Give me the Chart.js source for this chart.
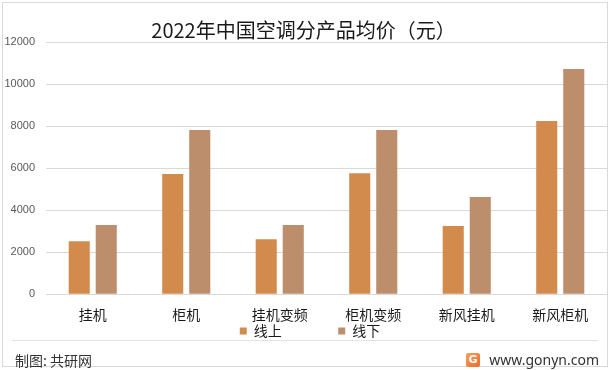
<!DOCTYPE html>
<html>
<head>
<meta charset="utf-8">
<script src="https://cdn.jsdelivr.net/npm/chart.js@4"></script>
<style>
    body { margin: 0; background: #fff; }
    #wrap { position: relative; width: 612px; height: 370px; overflow: hidden; }
    #frame { position: absolute; left: 2px; top: 2px; width: 604px; height: 363px; border: 1px solid #d9d9d9; }
    #chart { position: absolute; left: 0; top: 0; }
    #footLine { position: absolute; left: 12px; top: 340px; width: 586px; border-top: 1px solid #e3e3e3; }
    .foot { position: absolute; top: 350px; font-family: "Noto Sans CJK SC", sans-serif; color: #333; font-size: 14px; line-height: 20px; }
    #source { left: 15px; }
    #site { right: 13px; font-family: "Noto Sans", sans-serif; font-size: 14px; }
    #logo { position: absolute; top: 353px; left: 466px; width: 14px; height: 14px; border-radius: 2px;
            background: linear-gradient(135deg, #f6a15a, #ee6a2c); color: #fff; font: bold 11px "DejaVu Sans"; text-align: center; line-height: 14px; }
</style>
</head>
<body>
<div id="wrap">
    <div id="frame"></div>
    <canvas id="chart" width="612" height="370"></canvas>
    <div id="footLine"></div>
    <div class="foot" id="source">制图: 共研网</div>
    <div id="logo">G</div>
    <div class="foot" id="site">www.gonyn.com</div>
</div>
<script>
const categories = ["挂机", "柜机", "挂机变频", "柜机变频", "新风挂机", "新风柜机"];
const onlinePrices = [2520, 5720, 2620, 5760, 3240, 8240];   // 线上
const offlinePrices = [3290, 7810, 3290, 7810, 4620, 10710]; // 线下
const seriesNames = ["线上", "线下"];
const yTicks = [0, 2000, 4000, 6000, 8000, 10000, 12000];

const cnFont = '"Noto Sans CJK SC", "Noto Sans", sans-serif';

document.addEventListener('DOMContentLoaded', function() {
    const ctx = document.getElementById('chart').getContext('2d');

    // 图例项之间拉开距离
    const padLegend = function(chart) {
        const items = Chart.defaults.plugins.legend.labels.generateLabels(chart);
        items.forEach((item, i) => {
            if (i < items.length - 1) item.text = item.text + ' '.repeat(18);
        });
        return items;
    };

    // 图例整体稍微右移
    const legendShift = {
        id: 'legendShift',
        afterLayout: function(chart) {
            chart.legend.left += 13;
        }
    };

    new Chart(ctx, {
        type: 'bar',
        data: {
            labels: categories,
            datasets: [{
                label: seriesNames[0],
                data: onlinePrices,
                backgroundColor: '#D38B4D',
                barPercentage: 0.78,
                categoryPercentage: 0.578
            }, {
                label: seriesNames[1],
                data: offlinePrices,
                backgroundColor: '#BC8E6C',
                barPercentage: 0.78,
                categoryPercentage: 0.578
            }]
        },
        options: {
            responsive: false,
            animation: false,
            layout: {
                padding: { left: 0, right: 5, top: 0, bottom: 22 }
            },
            plugins: {
                title: {
                    display: true,
                    text: '2022年中国空调分产品均价（元）',
                    color: '#1a1a1a',
                    font: { family: cnFont, size: 20, weight: 'normal', lineHeight: 1.2 },
                    padding: { top: 18, bottom: 0 }
                },
                legend: {
                    position: 'bottom',
                    labels: {
                        boxWidth: 7,
                        boxHeight: 7,
                        padding: 0,
                        color: '#1a1a1a',
                        font: { family: cnFont, size: 14 },
                        generateLabels: padLegend
                    }
                },
                tooltip: { enabled: false }
            },
            scales: {
                x: {
                    grid: { display: false, drawTicks: false },
                    border: { display: false },
                    afterFit: function(scale) {
                        scale.height = scale.height - 11;
                    },
                    ticks: {
                        color: '#1a1a1a',
                        padding: 12,
                        font: { family: cnFont, size: 14 }
                    }
                },
                y: {
                    min: yTicks[0],
                    max: yTicks[yTicks.length - 1],
                    afterBuildTicks: function(scale) {
                        scale.ticks = yTicks.map(v => ({ value: v }));
                    },
                    afterFit: function(scale) {
                        scale.width = 46;
                    },
                    grid: { color: '#d9d9d9', drawTicks: false },
                    border: { display: false },
                    ticks: {
                        color: '#595959',
                        padding: 11,
                        font: { family: '"Liberation Sans", sans-serif', size: 11 },
                        callback: value => String(value)
                    }
                }
            }
        },
        plugins: [legendShift]
    });
});
</script>
</body>
</html>
